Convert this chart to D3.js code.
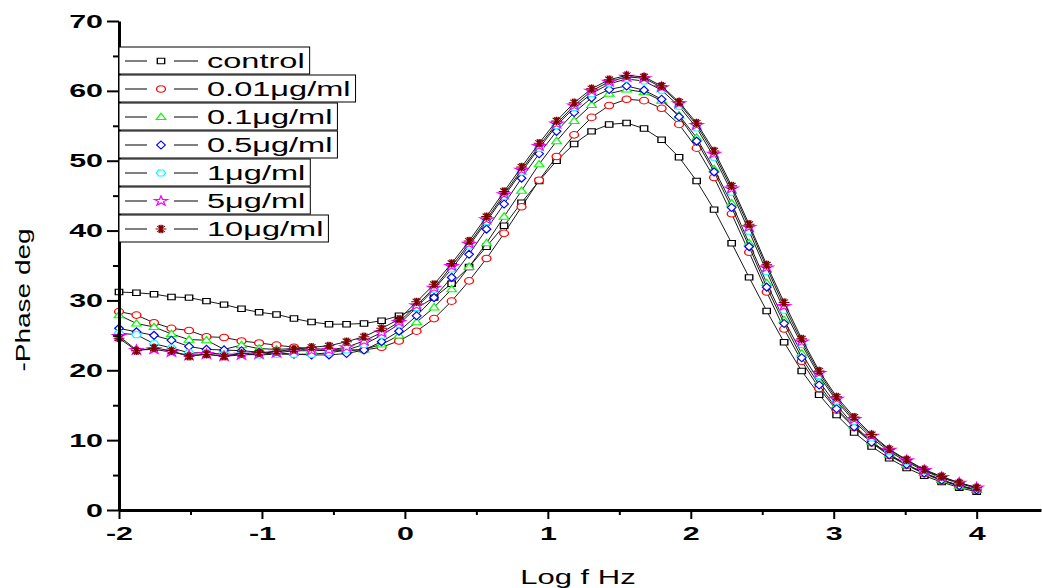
<!DOCTYPE html>
<html>
<head>
<meta charset="utf-8">
<script src="https://cdn.jsdelivr.net/npm/d3@7"></script>
<style>
  body { margin: 0; background: #fff; }
  svg { display: block; }
  text { font-family: "Liberation Sans", Arial, sans-serif; }
</style>
</head>
<body>
<div class="vis-phase"></div>
<script>
// log f (Hz) of every measured point
const logF = [-2, -1.878, -1.755, -1.633, -1.510, -1.388, -1.265, -1.143, -1.020, -0.898,
  -0.776, -0.653, -0.531, -0.408, -0.286, -0.163, -0.041, 0.082, 0.204, 0.327,
  0.449, 0.571, 0.694, 0.816, 0.939, 1.061, 1.184, 1.306, 1.429, 1.551,
  1.673, 1.796, 1.918, 2.041, 2.163, 2.286, 2.408, 2.531, 2.653, 2.776,
  2.898, 3.020, 3.143, 3.265, 3.388, 3.510, 3.633, 3.755, 3.878, 4.000];

// -phase (deg) per sample
const control = [31.2, 31.1, 30.9, 30.5, 30.4, 29.9, 29.4, 28.8, 28.3, 28.0,
  27.4, 26.9, 26.6, 26.6, 26.7, 27.1, 27.8, 28.9, 30.4, 32.4,
  34.8, 37.7, 40.7, 44.0, 47.1, 50.0, 52.4, 54.2, 55.2, 55.4,
  54.6, 53.0, 50.5, 47.1, 43.0, 38.2, 33.3, 28.5, 24.0, 19.9,
  16.5, 13.6, 11.1, 9.1, 7.4, 6.0, 4.9, 4.0, 3.2, 2.6];
const c001 = [28.4, 27.9, 26.8, 26.0, 25.7, 24.8, 24.7, 24.2, 23.9, 23.6,
  23.3, 23.1, 23.0, 22.9, 22.9, 23.3, 24.2, 25.6, 27.4, 29.9,
  32.8, 36.0, 39.6, 43.4, 47.2, 50.6, 53.7, 56.2, 57.9, 58.8,
  58.6, 57.5, 55.2, 51.8, 47.6, 42.4, 36.9, 31.2, 25.9, 21.3,
  17.4, 14.3, 11.8, 9.6, 7.8, 6.4, 5.2, 4.2, 3.4, 2.8];
const c01 = [27.9, 26.7, 26.2, 25.2, 24.4, 24.3, 23.0, 23.6, 23.1, 23.0,
  23.1, 22.9, 22.8, 22.8, 23.0, 23.7, 25.0, 26.9, 29.0, 31.6,
  34.8, 38.2, 42.0, 45.7, 49.5, 52.8, 55.7, 58.0, 59.6, 60.2,
  59.8, 58.6, 56.5, 53.3, 48.8, 43.9, 38.2, 32.5, 27.2, 22.4,
  18.4, 15.0, 12.1, 9.8, 8.0, 6.5, 5.3, 4.3, 3.5, 2.9];
const c05 = [26.0, 25.5, 25.0, 24.3, 23.4, 23.0, 22.9, 22.8, 22.6, 22.5,
  22.3, 22.2, 22.2, 22.4, 22.9, 24.1, 25.6, 27.8, 30.4, 33.3,
  36.6, 40.2, 43.8, 47.5, 51.0, 54.2, 56.9, 59.0, 60.2, 60.7,
  60.1, 58.8, 56.3, 52.8, 48.4, 43.3, 37.7, 31.9, 26.7, 21.8,
  17.9, 14.5, 11.9, 9.7, 7.9, 6.5, 5.3, 4.3, 3.5, 2.9];
const c1 = [25.3, 25.1, 23.8, 23.2, 22.5, 22.5, 22.3, 22.3, 22.2, 22.3,
  22.3, 22.3, 22.5, 22.9, 23.7, 25.0, 26.6, 29.0, 31.6, 34.5,
  37.8, 41.3, 44.9, 48.4, 51.8, 55.0, 57.6, 59.6, 61.0, 61.7,
  61.4, 60.1, 57.8, 54.7, 50.5, 45.5, 39.9, 34.1, 28.6, 23.7,
  19.2, 15.6, 12.7, 10.3, 8.4, 6.9, 5.6, 4.6, 3.8, 3.1];
const c5 = [24.9, 22.9, 23.0, 22.6, 22.1, 22.3, 22.0, 22.2, 22.3, 22.5,
  22.8, 22.8, 22.9, 23.3, 24.2, 25.4, 26.9, 29.3, 31.8, 34.9,
  38.1, 41.6, 45.2, 48.7, 52.1, 55.3, 57.9, 60.0, 61.3, 62.0,
  61.8, 60.5, 58.2, 55.1, 51.0, 46.0, 40.5, 34.7, 29.2, 24.1,
  19.6, 15.9, 13.0, 10.6, 8.6, 7.1, 5.7, 4.7, 3.9, 3.2];
const c10 = [24.6, 22.8, 23.2, 22.8, 22.0, 22.3, 22.0, 22.4, 22.5, 22.7,
  23.0, 23.3, 23.5, 24.1, 24.8, 26.0, 27.3, 29.8, 32.3, 35.3,
  38.5, 42.0, 45.6, 49.1, 52.5, 55.7, 58.3, 60.3, 61.6, 62.2,
  62.0, 60.7, 58.4, 55.4, 51.4, 46.4, 40.9, 35.1, 29.7, 24.5,
  19.9, 16.2, 13.3, 10.8, 8.7, 7.2, 5.8, 4.8, 3.9, 3.2];

const labels = ['control', '0.01\u03bcg/ml', '0.1\u03bcg/ml', '0.5\u03bcg/ml', '1\u03bcg/ml', '5\u03bcg/ml', '10\u03bcg/ml'];
const xTicks = [-2, -1, 0, 1, 2, 3, 4];
const xMinor = [-1.5, -0.5, 0.5, 1.5, 2.5, 3.5];
const yTicks = [0, 10, 20, 30, 40, 50, 60, 70];
const yMinor = [5, 15, 25, 35, 45, 55, 65];

const seriesValues = [control, c001, c01, c05, c1, c5, c10];
const colors = ['#000000', '#ff0000', '#00ff00', '#0000ff', '#00ffff', '#ff00ff', '#800000'];
const shapes = ['square', 'circle', 'triangle', 'diamond', 'hexagon', 'star', 'asterisk'];

const width = 1042;
const height = 588;
const wide = 1.55; // everything in the picture is drawn wide

const svg = d3.select('.vis-phase').append('svg')
  .attr('width', width).attr('height', height);

const x = d3.scaleLinear().domain([-2, 4.45]).range([119, 1041]);
const y = d3.scaleLinear().domain([0, 70]).range([510, 21]);

// marker paths in local coords, stretched later
function markerPath(shape) {
  switch (shape) {
    case 'square': return d3.symbol(d3.symbolSquare, 30)();
    case 'circle': return d3.symbol(d3.symbolCircle, 34)();
    case 'triangle': return 'M0,-3.8L3.6,2.6L-3.6,2.6Z';
    case 'diamond': return 'M0,-4L3.2,0L0,4L-3.2,0Z';
    case 'hexagon': return 'M-1.7,-3L1.7,-3L3.4,0L1.7,3L-1.7,3L-3.4,0Z';
    case 'star': return d3.symbol(d3.symbolStar, 30)();
    case 'asterisk': return 'M-4,0H4M0,-4.2V4.2M-2.9,-3L2.9,3M-2.9,3L2.9,-3M-1.5,-4L1.5,4M1.5,-4L-1.5,4';
  }
}

const line = d3.line()
  .x((d, i) => x(logF[i]))
  .y(d => y(d));

// each series: line then its markers, in order
seriesValues.forEach((vals, k) => {
  const g = svg.append('g');
  g.append('path')
    .attr('d', line(vals))
    .attr('fill', 'none')
    .attr('stroke', '#1a1a1a')
    .attr('stroke-width', 1);
  g.selectAll('path.m')
    .data(vals)
    .enter()
    .append('path')
    .attr('class', 'm')
    .attr('d', markerPath(shapes[k]))
    .attr('transform', (d, i) => `translate(${x(logF[i])},${y(d)}) scale(1.35,1)`)
    .attr('fill', shapes[k] === 'asterisk' ? 'none' : '#fff')
    .attr('stroke', colors[k])
    .attr('stroke-width', 1);
});

// axes
const yAxis = svg.append('g').attr('transform', 'translate(119,0)')
  .call(d3.axisLeft(y).tickValues(yTicks).tickSize(12).tickSizeOuter(0).tickPadding(4));
svg.append('g').attr('transform', 'translate(119,0)')
  .call(d3.axisLeft(y).tickValues(yMinor).tickSize(6).tickSizeOuter(0).tickFormat(''))
  .select('.domain').remove();

const xAxis = svg.append('g').attr('transform', 'translate(0,510)')
  .call(d3.axisBottom(x).tickValues(xTicks).tickSize(9).tickSizeOuter(0).tickPadding(7.5)
    .tickFormat(d => String(d)));
svg.append('g').attr('transform', 'translate(0,510)')
  .call(d3.axisBottom(x).tickValues(xMinor).tickSize(5).tickSizeOuter(0).tickFormat(''))
  .select('.domain').remove();

svg.selectAll('.domain').attr('stroke', '#000').attr('stroke-width', 3);
svg.selectAll('.tick line').attr('stroke', '#000').attr('stroke-width', 2);

yAxis.selectAll('text')
  .attr('font-size', 19).attr('font-weight', 'bold').attr('fill', '#000')
  .attr('x', -16 / 1.6)
  .attr('transform', 'scale(1.6,1)');
xAxis.selectAll('text')
  .attr('font-size', 19).attr('font-weight', 'bold').attr('fill', '#000')
  .attr('transform', 'scale(1.6,1)');

// wide text helper
function wideText(px, py, str, opts) {
  const g = svg.append('g')
    .attr('transform', `translate(${px},${py}) rotate(${opts.rotate || 0}) scale(${opts.sx || wide},1)`);
  return g.append('text')
    .attr('text-anchor', opts.anchor || 'start')
    .attr('font-size', opts.size)
    .attr('fill', '#000')
    .text(str);
}

wideText(578, 584, 'Log f Hz', {anchor: 'middle', size: 20});
wideText(30, 300, '-Phase deg', {anchor: 'middle', size: 20, rotate: -90, sx: 1.4});

// legend, one framed row per series
labels.forEach((lab, k) => {
  const top = 47 + k * 28;
  const mid = top + 14;
  const row = svg.append('g');
  const box = row.append('rect')
    .attr('x', 119).attr('y', top).attr('height', 27)
    .attr('fill', '#fff').attr('stroke', '#000').attr('stroke-width', 1);
  row.append('line').attr('x1', 125).attr('x2', 147).attr('y1', mid).attr('y2', mid)
    .attr('stroke', '#000').attr('stroke-width', 1);
  row.append('line').attr('x1', 174).attr('x2', 198).attr('y1', mid).attr('y2', mid)
    .attr('stroke', '#000').attr('stroke-width', 1);
  row.append('path')
    .attr('d', markerPath(shapes[k]))
    .attr('transform', `translate(161,${mid}) scale(1.35,1)`)
    .attr('fill', shapes[k] === 'asterisk' ? 'none' : '#fff')
    .attr('stroke', colors[k]);
  const t = wideText(207, top + 21, lab, {size: 21});
  const w = t.node().getComputedTextLength() * wide;
  box.attr('width', 207 + w + 5 - 119);
});
</script>
</body>
</html>
